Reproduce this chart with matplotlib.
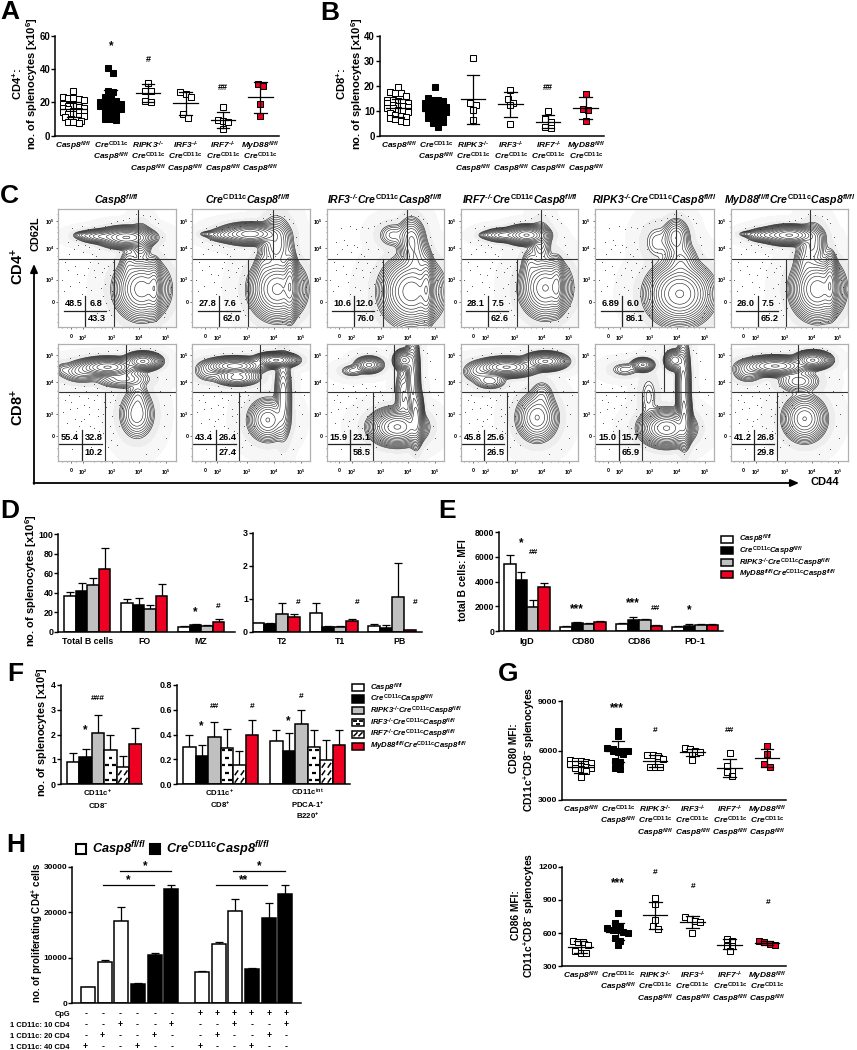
# multi panel figure: splenocyte counts, flow plots, B cell bars, proliferation

import numpy as np
import matplotlib
matplotlib.use("Agg")
import matplotlib.pyplot as plt
from matplotlib.patches import Rectangle

plt.rcParams['font.family'] = ['Liberation Sans', 'DejaVu Sans']
plt.rcParams['font.weight'] = 'bold'
plt.rcParams['mathtext.fontset'] = 'custom'
plt.rcParams['mathtext.rm'] = 'Liberation Sans:italic:bold'
plt.rcParams['mathtext.it'] = 'Liberation Sans:italic:bold'
plt.rcParams['mathtext.bf'] = 'Liberation Sans:bold'

W, H = 857, 1050

# genotype labels
casp = r'$\mathit{Casp8}^{\mathit{fl/fl}}$'
cre = r'$\mathit{Cre}^{\mathbf{CD11c}}$'
cre_casp = r'$\mathit{Cre}^{\mathbf{CD11c}}\mathit{Casp8}^{\mathit{fl/fl}}$'
ko = '^{\u2010/\u2010}'
ripk3 = r'$\mathit{RIPK3}' + ko + '$'
irf3 = r'$\mathit{IRF3}' + ko + '$'
irf7 = r'$\mathit{IRF7}' + ko + '$'
myd88 = r'$\mathit{MyD88}^{\mathit{fl/fl}}$'
group_rows = [[casp], [cre, casp], [ripk3, cre, casp], [irf3, cre, casp], [irf7, cre, casp], [myd88, cre, casp]]

# panel A
a_values = [
    [27, 23, 22.5, 22.5, 22, 21.5, 19, 18, 18, 17, 16.5, 16.5, 16, 15, 15, 14, 14, 13, 13, 12, 12, 11, 10, 9.5, 9, 8, 8, 7.5],
    [40.5, 38, 27, 26, 23, 23, 21, 20, 20, 20, 19, 19, 18, 18, 17, 17, 16, 16, 15, 15, 13, 12, 12, 10, 10, 9.5],
    [32, 27, 27, 21, 20.5],
    [26, 25, 23.5, 13, 10.5],
    [17, 9.5, 9, 8.5, 4],
    [31, 30, 19, 12],
]
a_mean = [15.8, 20, 25.7, 19.5, 9.2, 23]
a_upper = [20.5, 27.5, 31, 26, 14, 32.5]
a_lower = [11, 12, 20.3, 12.7, 4.4, 13.8]

# panel B
b_values = [
    [19.5, 17.5, 17, 17, 16, 14.5, 14.5, 14, 13.5, 13, 13, 12.5, 12, 12, 11.5, 11, 11, 10.5, 10, 9.5, 9, 8.5, 8, 7.5, 7, 6.5, 6, 5.5],
    [19.7, 15, 14.5, 14.5, 14, 13, 13, 12.5, 12, 11.5, 11, 11, 10.5, 10, 9.5, 9, 8.5, 8, 7.5, 7, 6.5, 6, 5.5, 5, 3.5],
    [31.3, 13, 12.3, 10.2, 6.2],
    [18.2, 14.6, 13.2, 12.2, 4.7],
    [9.8, 6.6, 5.4, 3.6, 3.2],
    [16.9, 10.8, 10.2, 5.8],
]
b_mean = [11.2, 9.9, 14.6, 12.6, 5.6, 11]
b_upper = [14.7, 13, 24.3, 17.5, 8.3, 15.5]
b_lower = [7.6, 7, 4.8, 7.6, 2.9, 6.6]

# panel C, percentages per plot
flow_row1 = [[48.5, 6.8, 43.3], [27.8, 7.6, 62.0], [10.6, 12.0, 76.0], [28.1, 7.5, 62.6], ['6.89', 6.0, 86.1], [26.0, 7.5, 65.2]]
flow_row2 = [[55.4, 32.8, 10.2], [43.4, 26.4, 27.4], [15.9, 23.1, 58.5], [45.8, 25.6, 26.5], [15.0, 15.7, 65.9], [41.2, 26.8, 29.8]]
flow_titles = [
    casp, cre_casp,
    r'$\mathit{IRF3}' + ko + r'\mathit{Cre}^{\mathbf{CD11c}}\mathit{Casp8}^{\mathit{fl/fl}}$',
    r'$\mathit{IRF7}' + ko + r'\mathit{Cre}^{\mathbf{CD11c}}\mathit{Casp8}^{\mathit{fl/fl}}$',
    r'$\mathit{RIPK3}' + ko + r'\mathit{Cre}^{\mathbf{CD11c}}\mathit{Casp8}^{\mathit{fl/fl}}$',
    r'$\mathit{MyD88}^{\mathit{fl/fl}}\mathit{Cre}^{\mathbf{CD11c}}\mathit{Casp8}^{\mathit{fl/fl}}$',
]
# populations: x, y, x spread, y spread, weight (percent of the plot)
blobs_row1 = [
    [(58, 76, 9, 3.5, 1.0), (36, 77, 8, 2.5, .22), (21, 78, 4, 1.5, .04), (71, 32, 9, 10, .6), (82, 33, 2.5, 9, .4), (60, 52, 3.5, 7, .05), (70, 72, 4, 7, .1)],
    [(49, 79, 10, 3.5, .8), (28, 78, 7, 2.5, .1), (14, 79, 4, 1.2, .03), (72, 32, 9, 10, .7), (83, 35, 2.5, 11, .6), (71, 70, 6, 10, .15), (60, 50, 3.5, 7, .04)],
    [(72, 74, 5, 8, .2), (56, 78, 6, 5, .04), (72, 30, 10, 11, 1.0), (85, 32, 2.5, 11, .7), (76, 58, 5, 8, .15)],
    [(56, 78, 7, 3.2, 1.0), (36, 78, 7, 2.5, .2), (22, 78, 3.5, 1.5, .03), (72, 33, 8.5, 10, .5), (82, 35, 2.5, 9, .35), (59, 52, 3.5, 7, .05), (68, 72, 4, 8, .08)],
    [(68, 76, 5, 7, .12), (52, 72, 6, 8, .02), (71, 28, 10.5, 10, 1.0), (72, 55, 6, 8, .1)],
    [(50, 78, 9, 3.2, .8), (30, 78, 7, 2.5, .15), (15, 79, 4, 1.2, .03), (74, 32, 8.5, 10, .7), (85, 36, 2.5, 10, .5), (64, 55, 4.5, 8, .06), (70, 70, 5, 8, .1)],
]
blobs_row2 = [
    [(42, 80, 10, 3.2, 1.0), (72, 85, 6, 3, 1.0), (20, 76, 8, 4, .1), (4, 78, 3, 3, .02), (67, 40, 6.4, 9, .12), (68, 55, 4, 6, .04), (55, 70, 10, 3.5, .1)],
    [(36, 81, 10, 3, 1.0), (71, 86, 7, 2.5, 1.2), (38, 71, 8, 3, .25), (14, 76, 6, 4, .05), (64, 35, 7, 7.5, .3), (77, 55, 3, 15, .2)],
    [(36, 82, 5, 3, .3), (22, 77, 5, 2.5, .04), (66, 86, 3.5, 3.5, .8), (73, 70, 2.5, 16, .45), (60, 29, 9, 6, 1.1), (76, 38, 2.5, 10, .6), (65, 55, 3, 12, .1)],
    [(39, 80, 10, 3.2, 1.0), (72, 85, 7, 3, 1.0), (15, 76, 6, 4, .07), (25, 68, 6, 3, .08), (65, 37, 7.3, 8.5, .25), (69, 55, 4.5, 6, .05)],
    [(40, 82, 4, 2.5, .28), (25, 78, 6, 3, .03), (67, 86, 3.5, 3.5, .5), (74, 65, 2.5, 16, .35), (60, 28, 8.5, 6, 1.1), (75, 36, 2.5, 10, .45), (45, 55, 4, 10, .02)],
    [(38, 81, 11, 3.2, 1.0), (70, 86, 6, 3, 1.0), (15, 76, 6, 4, .07), (63, 36, 7.5, 8, .35), (58, 68, 8, 4.5, .08)],
]
# stray events around the populations (percent of the plot)
stray_x_row1 = [5, 8, 12, 14, 18, 22, 25, 28, 31, 34, 37, 40, 42, 44, 46, 38, 41, 43, 45, 33, 36, 39, 27, 30, 24, 20, 16, 10, 6, 3,
                9, 13, 17, 21, 26, 29, 35, 32, 44, 47, 47, 46, 45, 48, 90, 92, 94, 95, 93, 91, 96, 89, 88, 85, 82, 78, 72, 66, 60, 55,
                50, 45, 40, 35, 30, 25, 20, 12, 8, 15, 23, 33, 44, 52, 58, 64, 70, 76, 83, 90]
stray_y_row1 = [30, 48, 22, 52, 38, 44, 50, 31, 42, 54, 47, 36, 52, 44, 30, 26, 20, 14, 10, 12, 33, 50, 55, 48, 34, 28, 45, 35, 55, 40,
                62, 66, 70, 64, 68, 62, 66, 60, 58, 55, 48, 38, 24, 16, 62, 50, 40, 28, 18, 12, 34, 70, 76, 88, 92, 94, 95, 96, 93, 91,
                90, 88, 86, 84, 85, 83, 86, 84, 72, 74, 70, 72, 66, 64, 62, 60, 60, 4, 5, 8]
stray_x_row2 = [6, 10, 14, 18, 22, 26, 30, 34, 37, 39, 35, 31, 27, 23, 19, 15, 11, 7, 4, 9, 16, 25, 33, 38, 41, 44, 46, 48, 47, 45,
                12, 20, 28, 36, 42, 50, 52, 54, 40, 38, 34, 30, 26, 22, 18, 84, 87, 90, 92, 88, 85, 90, 93, 82, 78, 70, 60, 50, 42, 34,
                26, 18, 10, 30, 22, 45, 55, 65, 75, 85, 92, 95, 5, 14, 24, 33, 41, 47, 52, 44]
stray_y_row2 = [52, 44, 36, 55, 48, 40, 52, 44, 33, 50, 26, 20, 30, 22, 34, 26, 50, 32, 42, 56, 45, 54, 56, 40, 46, 30, 38, 52, 24, 18,
                10, 8, 12, 9, 12, 14, 30, 45, 55, 24, 38, 28, 46, 36, 30, 72, 60, 48, 70, 85, 92, 30, 40, 95, 96, 96, 95, 95, 94, 92,
                92, 90, 88, 66, 64, 60, 62, 60, 6, 10, 20, 56, 66, 62, 60, 62, 64, 56, 48, 50]
flow_xticks = [10.8, 21.3, 46, 69, 91.8]
flow_yticks = [21, 40, 67, 90]
flow_xlabels = ['0', r'$\mathbf{10^{2}}$', r'$\mathbf{10^{3}}$', r'$\mathbf{10^{4}}$', r'$\mathbf{10^{5}}$']
flow_ylabels = ['0', r'$\mathbf{10^{3}}$', r'$\mathbf{10^{4}}$', r'$\mathbf{10^{5}}$']

# panel D
d_groups_left = ['Total B cells', 'FO', 'MZ']
d_left = [[37, 42, 48, 64], [29.5, 27.5, 23, 36.5], [5, 6.5, 6, 10]]
d_left_top = [[41, 50.5, 55.5, 85.5], [34, 34.5, 27, 49], [6, 8, 7, 13.5]]
d_groups_right = ['T2', 'T1', 'PB']
d_right = [[.25, .23, .53, .45], [.58, .15, .14, .33], [.16, .11, 1.05, .05]]
d_right_top = [[.26, .25, .88, .53], [.86, .17, .18, .4], [.22, .19, 2.08, .06]]

# panel E
e_groups = ['IgD', 'CD80', 'CD86', 'PD-1']
e_values = [[5450, 4150, 1950, 3550], [330, 650, 560, 720], [580, 950, 880, 450], [330, 440, 480, 520]]
e_top = [[6150, 4800, 2500, 3900], [450, 780, 680, 790], [630, 1130, 1030, 480], [420, 560, 610, 560]]
e_legend = [casp, cre_casp, flow_titles[4], flow_titles[5]]

# panel F
f_left = [[.9, 1.1, 2.08, 1.38, .68, 1.63]]
f_left_top = [[1.27, 1.42, 2.78, 2.0, 1.15, 2.25]]
f_right = [[.30, .23, .385, .29, .155, .395], [.35, .265, .485, .30, .195, .315]]
f_right_top = [[.395, .315, .50, .445, .265, .52], [.435, .415, .595, .44, .355, .44]]
f_legend = [casp, cre_casp, flow_titles[4], flow_titles[2], flow_titles[3], flow_titles[5]]

# panel G
g80_values = [
    [5430, 5380, 5350, 5300, 5250, 5200, 5200, 5050, 5000, 4950, 4950, 4850, 4750, 4400],
    [7200, 6900, 6140, 6100, 6000, 6000, 6000, 5950, 5900, 5800, 5340, 5300, 4960, 4900],
    [5740, 5700, 5660, 5500, 5000, 5000, 5000],
    [6140, 6100, 6000, 5920, 5700, 5400],
    [5820, 5040, 4770, 4700, 4440],
    [6280, 5760, 5180, 5000],
]
g80_mean = [4980, 5940, 5340, 5880, 4950, 5540]
g80_upper = [5350, 6600, 5740, 6100, 5480, 6120]
g80_lower = [4620, 5280, 4980, 5640, 4420, 4980]
g86_values = [
    [532, 523, 517, 493, 435, 423, 420],
    [785, 691, 652, 643, 628, 628, 610, 604, 553, 532, 493],
    [920, 860, 718, 664, 640],
    [742, 730, 709, 703, 604],
    [544, 532, 484, 484, 438],
    [530, 520, 505, 493],
]
g86_mean = [478, 613, 763, 700, 496, 514]
g86_upper = [532, 694, 884, 755, 544, 530]
g86_lower = [423, 538, 637, 643, 453, 493]

# panel H
h_white = [3600, 9100, 18100]
h_white_top = [3650, 9600, 21200]
h_black = [4300, 10650, 25100]
h_black_top = [4500, 10950, 25900]
h_white_cpg = [6800, 13000, 20200]
h_white_cpg_top = [7200, 13400, 23000]
h_black_cpg = [7600, 18800, 23900]
h_black_cpg_top = [7850, 22000, 26000]
h_rows = ['CpG', '1 CD11c: 10 CD4', '1 CD11c: 20 CD4', '1 CD11c: 40 CD4']
h_signs = ['------++++++', '--+--+--+--+', '-+--+--+--+-', '+--+--+--+--']

bar_styles = {
    'white': dict(facecolor='white'),
    'black': dict(facecolor='black'),
    'gray': dict(facecolor='#c0c0c0'),
    'red': dict(facecolor='#ee0022'),
    'dash': dict(facecolor='white'),
    'slant': dict(facecolor='white'),
}

fig = plt.figure(figsize=(W / 100, H / 100), dpi=100)

# overlay in pixel coordinates for all loose text
over = fig.add_axes([0, 0, 1, 1], zorder=10)
over.set_xlim(0, W)
over.set_ylim(H, 0)
over.axis('off')


def txt(x, y, s, size=6.6, ha='center', va='baseline', rot=0, **kw):
    return over.text(x, y, s, fontsize=size, ha=ha, va=va, rotation=rot, color='black', **kw)


def vlabel(x, y, s, size=8):
    txt(x, y, s, size=size, va='center', rot=90, rotation_mode='anchor')


def make_axes(x0, x1, ytop, ybot, ylim, yticks, yticklabels=None, size=6.9):
    ax = fig.add_axes([x0 / W, 1 - ybot / H, (x1 - x0) / W, (ybot - ytop) / H])
    ax.set_ylim(*ylim)
    ax.set_yticks(yticks)
    if yticklabels is not None:
        ax.set_yticklabels(yticklabels)
    ax.spines['top'].set_visible(False)
    ax.spines['right'].set_visible(False)
    ax.spines['left'].set_linewidth(1.1)
    ax.spines['bottom'].set_linewidth(1.1)
    ax.tick_params(axis='y', length=2.6, width=1.0, labelsize=size, pad=0.8)
    ax.patch.set_alpha(0)
    return ax


def swarm(values, row, step, most=5):
    # stack close values side by side, centred on the group
    vals = sorted(values, reverse=True)
    out = []
    i = 0
    while i < len(vals):
        j = i
        while j < len(vals) and vals[i] - vals[j] < row and j - i < most:
            j += 1
        n = j - i
        for k in range(n):
            out.append((vals[i + k], (k - (n - 1) / 2) * step))
        i = j
    return out


def dot_panel(ax, values, mean, upper, lower, row):
    ax.set_xlim(-0.49, 5.5)
    ax.set_xticks([])
    for g in range(6):
        face = 'white'
        if g == 1:
            face = 'black'
        if g == 5:
            face = '#ee0022'
        for v, off in swarm(values[g], row, 0.14):
            ax.plot(g + off, v, 's', ms=3.7, mfc=face, mec='black', mew=0.75, zorder=2)
        ax.plot([g - .33, g + .33], [mean[g], mean[g]], color='black', lw=0.9, zorder=3)
        ax.plot([g - .17, g + .17], [upper[g], upper[g]], color='black', lw=0.9, zorder=3)
        ax.plot([g - .17, g + .17], [lower[g], lower[g]], color='black', lw=0.9, zorder=3)
        ax.plot([g, g], [lower[g], upper[g]], color='black', lw=0.9, zorder=3)


def group_labels(x0, step, baselines):
    for g, rows in enumerate(group_rows):
        for r, s in enumerate(rows):
            txt(x0 + g * step, baselines[r], s, size=6.0)


def bars(ax, values, tops, styles, centers, width):
    for c, vals, tp in zip(centers, values, tops):
        n = len(vals)
        for i in range(n):
            x = c + (i - (n - 1) / 2) * width
            st = styles[i]
            ax.bar(x, vals[i], width=width, edgecolor='black', lw=1.1, zorder=2, **bar_styles[st])
            ax.errorbar(x, vals[i], yerr=[[0], [tp[i] - vals[i]]], color='black', lw=0.9, capsize=2.6,
                        capthick=0.9, zorder=1)
            if st in ('dash', 'slant'):
                pattern(ax, x, width, vals[i], st)


def pattern(ax, x, w, h, st):
    # little dashes inside the bar, spaced in screen pixels
    ymin, ymax = ax.get_ylim()
    pos = ax.get_position()
    per_px = (ymax - ymin) / (pos.height * H)
    rows = np.arange(4 * per_px, h - per_px, 7.5 * per_px)
    for i, y in enumerate(rows):
        if st == 'dash':
            xs = [x - .27 * w, x + .27 * w] if i % 2 == 0 else [x]
            for xc in xs:
                ax.plot([xc - .15 * w, xc + .15 * w], [y, y], color='black', lw=1.6, solid_capstyle='butt', zorder=3)
        else:
            xs = [x - .24 * w, x + .24 * w]
            for xc in xs:
                ax.plot([xc - .1 * w, xc + .1 * w], [y - 1.8 * per_px, y + 1.8 * per_px], color='black', lw=1.1, zorder=3)


def legend_boxes(x, w, h, ys, labels, styles, tx, size=5.6):
    for y, lab, st in zip(ys, labels, styles):
        over.add_patch(Rectangle((x, y - h / 2), w, h, facecolor=bar_styles[st]['facecolor'], edgecolor='black', lw=1.1))
        if st == 'dash':
            for xc, yc in [(x + 3, y - 1.5), (x + 9, y - 1.5), (x + 6, y + 1.5)]:
                over.plot([xc - 2, xc + 2], [yc, yc], color='black', lw=1.3, solid_capstyle='butt')
        if st == 'slant':
            for xc in [x + 3.5, x + 8.5]:
                over.plot([xc - 1.5, xc + 1.5], [y + 1.5, y - 1.5], color='black', lw=1.1)
        txt(tx, y + 2.5, lab, size=size, ha='left')


# panel letters
for s, x, y in [('A', 0, 19), ('B', 320, 20), ('C', 0, 203), ('D', 0, 518), ('E', 438, 518), ('F', 7, 681), ('G', 498, 681), ('H', 6, 852)]:
    txt(x, y, s, size=19, ha='left')

# A and B
ax = make_axes(55, 279, 36, 135.7, (0, 60), [0, 20, 40, 60])
dot_panel(ax, a_values, a_mean, a_upper, a_lower, 2.7)
group_labels(73.3, 37.4, [148.5, 160, 171.5])
vlabel(17, 84, r'$\mathbf{CD4^{+}}$:', 8)
vlabel(32, 84, r'no. of splenocytes [x10$^{\mathbf{6}}$]', 8)
txt(111, 46.5, '*', size=8.5, va='center')
txt(148.3, 59, '#', size=6.5, va='center')
txt(223.3, 87.5, '##', size=6.5, va='center')

ax = make_axes(379.5, 604.3, 36, 135.7, (0, 40), [0, 10, 20, 30, 40])
dot_panel(ax, b_values, b_mean, b_upper, b_lower, 1.8)
group_labels(398.7, 37.4, [148.5, 160, 171.5])
vlabel(341, 84, r'$\mathbf{CD8^{+}}$:', 8)
vlabel(357, 84, r'no. of splenocytes [x10$^{\mathbf{6}}$]', 8)
txt(548.3, 87.5, '##', size=6.5, va='center')

# C
cols = [(58.3, 175.7), (192.3, 310.3), (326.7, 444.3), (460.7, 578.3), (595, 714.3), (730.7, 848)]
rows = [(209.3, 326.7), (343.7, 461)]
grid = np.linspace(0, 100, 260)
gx, gy = np.meshgrid(grid, grid)
gates = [(68, 47.5, 57.4), (57.5, 39.7, 58.6)]
tables = [dict(v=23, hy=13.6, x0=4.8, x1=40.6, tx=(13, 32, 33), ty=(20, 7)),
          dict(v=20, hy=14.5, x0=1, x1=37, tx=(10, 30, 30), ty=(20, 7))]
strays = [(stray_x_row1, stray_y_row1), (stray_x_row2, stray_y_row2)]
for r, (blobs, nums) in enumerate([(blobs_row1, flow_row1), (blobs_row2, flow_row2)]):
    ytop, ybot = rows[r]
    up, low, hy = gates[r]
    tb = tables[r]
    for c, (x0, x1) in enumerate(cols):
        ax = fig.add_axes([x0 / W, 1 - ybot / H, (x1 - x0) / W, (ybot - ytop) / H])
        ax.set_xlim(0, 100)
        ax.set_ylim(0, 100)
        dens = np.zeros_like(gx)
        for bx, by, sx, sy, wt in blobs[c]:
            dens += wt * np.exp(-0.5 * (((gx - bx) / sx) ** 2 + ((gy - by) / sy) ** 2))
        top = dens.max()
        ax.contourf(gx, gy, dens, levels=[top * 1e-6, top * 1e-3, top * 8e-3], colors=['#f7f7f7', '#ededed'])
        ax.plot(strays[r][0], strays[r][1], 's', ms=0.7, mfc='#555555', mec='none', zorder=1.5)
        ax.contour(gx, gy, dens, levels=np.geomspace(top * 8e-3, top * 0.95, 15), colors='#222222', linewidths=0.42)
        ax.plot([0, 100], [hy, hy], color='#333333', lw=0.8)
        ax.plot([up, up], [hy, 100 - 1], color='#333333', lw=0.8)
        ax.plot([low, low], [0, hy], color='#333333', lw=0.8)
        # percentages
        ax.plot([tb['x0'], tb['x1']], [tb['hy'], tb['hy']], color='#222222', lw=0.9)
        ax.plot([tb['v'], tb['v']], [1, 26.5], color='#222222', lw=0.9)
        ax.text(tb['tx'][0], tb['ty'][0], str(nums[c][0]), fontsize=6.6, ha='center', va='center')
        ax.text(tb['tx'][1], tb['ty'][0], str(nums[c][1]), fontsize=6.6, ha='center', va='center')
        ax.text(tb['tx'][2], tb['ty'][1], str(nums[c][2]), fontsize=6.6, ha='center', va='center')
        for sp in ax.spines.values():
            sp.set_color('#b0b0b0')
            sp.set_linewidth(0.9)
        ax.set_xticks(flow_xticks)
        ax.set_xticklabels(flow_xlabels)
        ax.set_yticks(flow_yticks)
        ax.set_yticklabels(flow_ylabels)
        ax.set_xticks([3, 7, 15, 30, 36, 40, 54, 60, 64, 77, 83, 87], minor=True)
        ax.set_yticks([4, 11, 30, 48, 54, 60, 75, 81, 85, 96], minor=True)
        ax.tick_params(which='major', length=1.6, width=0.5, labelsize=3.8, pad=3.5, color='#333333')
        ax.tick_params(which='minor', length=0.9, width=0.4, color='#333333')
        ax.tick_params(axis='y', pad=1)
        if r == 0:
            title_x = [116.7, 248, 385, 520, 654, 790][c]
            txt(title_x, 204, flow_titles[c], size=7.6)

over.annotate('', xy=(34, 264), xytext=(34, 484), arrowprops=dict(arrowstyle='-|>,head_width=0.22,head_length=0.5', color='black', lw=1.3, shrinkA=0, shrinkB=0))
over.annotate('', xy=(799, 483), xytext=(33.5, 483), arrowprops=dict(arrowstyle='-|>,head_width=0.22,head_length=0.5', color='black', lw=1.3, shrinkA=0, shrinkB=0))
vlabel(18, 267, r'$\mathbf{CD4^{+}}$', 10.5)
vlabel(18, 408, r'$\mathbf{CD8^{+}}$', 10.5)
vlabel(36, 234, 'CD62L', 7.8)
txt(825, 485, 'CD44', size=8)

# D
four = ['white', 'black', 'gray', 'red']
ax = make_axes(58.3, 235, 534.3, 631.7, (0, 100), [0, 20, 40, 60, 80, 100], size=6.4)
ax.set_xlim(-0.51, 2.59)
ax.set_xticks([])
bars(ax, d_left, d_left_top, four, [0, 1, 2], 0.202)
for x, s in zip([87.5, 144, 201], d_groups_left):
    txt(x, 644, s, size=6.3)
ax = make_axes(252.7, 421.7, 532.7, 631.7, (0, 3), [0, 1, 2, 3], size=6.4)
ax.set_xlim(-0.4, 2.52)
ax.set_xticks([])
bars(ax, d_right, d_right_top, four, [0, 1, 2], 0.208)
for x, s in zip([281.7, 339.7, 400], d_groups_right):
    txt(x, 644, s, size=6.3)
vlabel(31, 581, r'no. of splenocytes [x10$^{\mathbf{6}}$]', 8)
txt(195, 612, '*', size=8.5, va='center')
txt(218.3, 606, '#', size=6, va='center')
for x in [298.3, 356.7, 415]:
    txt(x, 602.5, '#', size=6, va='center')

# E
ax = make_axes(499, 722.7, 532, 631.3, (0, 8000), [0, 2000, 4000, 6000, 8000], size=6.2)
ax.set_xlim((207 - 291) / 168, (878 - 291) / 168)
ax.set_xticks([])
bars(ax, e_values, e_top, four, [0, 1, 2, 3], 0.205)
for x, s in zip([527, 583, 639, 695], e_groups):
    txt(x, 644, s, size=6.6)
vlabel(463, 580, 'total B cells: MFI', 7.4)
for x, y, s in [(521.7, 543, '*'), (533.3, 553, '##'), (577, 609, '***'), (633, 603, '***'), (655.3, 608.5, '##'), (689, 610, '*')]:
    txt(x, y, s, size=8.5 if '*' in s else 6, va='center')
legend_boxes(721, 12.3, 7, [539.3, 550.7, 562.7, 574.3], e_legend, four, 738.7)

# F
six = ['white', 'black', 'gray', 'dash', 'slant', 'red']
ax = make_axes(60.7, 142, 685, 784.3, (0, 4), [0, 1, 2, 3, 4], size=6.4)
ax.set_xlim((182 - 313) / 225, (427 - 313) / 225)
ax.set_xticks([])
bars(ax, f_left, f_left_top, six, [0], 1 / 6)
ax = make_axes(176.7, 350, 685, 784.3, (0, .8), [0, .2, .4, .6, .8], ['0.0', '0.2', '0.4', '0.6', '0.8'], size=6.4)
ax.set_xlim((530 - 662) / 261, (1050 - 662) / 261)
ax.set_xticks([])
bars(ax, f_right, f_right_top, six, [0, 1], 37.5 / 261)
for x, rows_f in [(98, ['CD11c$^{\\mathbf{+}}$', 'CD8$^{\\mathbf{-}}$']),
                  (220, ['CD11c$^{\\mathbf{+}}$', 'CD8$^{\\mathbf{+}}$']),
                  (307.7, ['CD11c$^{\\mathbf{int}}$', 'PDCA-1$^{\\mathbf{+}}$', 'B220$^{\\mathbf{+}}$'])]:
    for y, s in zip([796, 808, 819], rows_f):
        txt(x, y, s, size=5.6)
vlabel(41.7, 732, r'no. of splenocytes [x10$^{\mathbf{6}}$]', 7.8)
for x, y, s in [(97.7, 699, '###'), (85.7, 730, '*'), (214, 707, '##'), (251.7, 706.5, '#'), (201.3, 726, '*'), (301, 696.5, '#'), (288.7, 721.5, '*')]:
    txt(x, y, s, size=8.5 if '*' in s else 6, va='center')
legend_boxes(352, 12.3, 7.5, [687.7, 699, 710.7, 722.7, 734.3, 746.3], f_legend, six, 370)

# G
ax = make_axes(562.3, 785.7, 701, 800, (3000, 9000), [3000, 6000, 9000], size=6.1)
dot_panel(ax, g80_values, g80_mean, g80_upper, g80_lower, 280)
group_labels(580.7, 37.33, [812.3, 824, 835.7])
vlabel(514.3, 748, 'CD80 MFI:', 7.4)
vlabel(529.5, 749, r'CD11c$^{\mathbf{+}}$CD8$^{\mathbf{-}}$ splenocytes', 7.4)
for x, y, s in [(617.3, 708, '***'), (654.7, 731, '#'), (729.3, 731, '##')]:
    txt(x, y, s, size=8.5 if '*' in s else 6, va='center')

ax = make_axes(562.3, 785.7, 866.7, 966.3, (300, 1200), [300, 600, 900, 1200], size=6.1)
dot_panel(ax, g86_values, g86_mean, g86_upper, g86_lower, 40)
group_labels(580.7, 37.33, [978.3, 990, 1002])
vlabel(516, 914.7, 'CD86 MFI:', 7.4)
vlabel(529.5, 915, r'CD11c$^{\mathbf{+}}$CD8$^{\mathbf{-}}$ splenocytes', 7.4)
for x, y, s in [(618, 883, '***'), (655.3, 873, '#'), (692.7, 887, '#'), (768.3, 902, '#')]:
    txt(x, y, s, size=8.5 if '*' in s else 6, va='center')

# H
ax = make_axes(72.3, 300.7, 866.7, 1003.3, (0, 30000), [0, 10000, 20000, 30000])
ax.tick_params(axis='y', labelsize=6.0)
step = 50.0
pos_a = [(264 + i * step) for i in range(6)]
pos_b = [(606 + i * step) for i in range(6)]
ax.set_xlim(217, 902)
ax.set_xticks([])
all_vals = h_white + h_black + h_white_cpg + h_black_cpg
all_tops = h_white_top + h_black_top + h_white_cpg_top + h_black_cpg_top
for x, v, tp, i in zip(pos_a + pos_b, all_vals, all_tops, range(12)):
    fc = 'white' if i % 6 < 3 else 'black'
    ax.bar(x, v, width=42, facecolor=fc, edgecolor='black', lw=1.1, zorder=2)
    ax.errorbar(x, v, yerr=[[0], [tp - v]], color='black', lw=0.9, capsize=2.6, capthick=0.9, zorder=1)
vlabel(37.7, 933, r'no. of proliferating CD4$^{\mathbf{+}}$ cells', 7.1)
for (xa, xb, y), s, sx, sy in [((102.7, 154, 884.7), '*', 128.3, 880), ((120, 171, 870.7), '*', 145.7, 866),
                               ((216, 267.3, 884.7), '**', 243.7, 880), ((233.3, 285, 870.7), '*', 259, 866)]:
    over.plot([xa, xb], [y, y], color='black', lw=0.9)
    txt(sx, sy, s, size=8.5, va='center')
over.add_patch(Rectangle((76.5, 843.5), 10, 10.5, facecolor='white', edgecolor='black', lw=1.5))
over.add_patch(Rectangle((150.5, 843.5), 10, 10.5, facecolor='black', edgecolor='black', lw=1.5))
txt(92, 853.7, casp, size=9.2, ha='left')
txt(166, 853.7, cre_casp, size=9.2, ha='left')
table_x = [x / 3 for x in [257, 308, 360, 412, 464, 515, 600, 652, 703, 755, 807, 858]]
for y, lab, signs in zip([1014, 1025.3, 1036, 1046.7], h_rows, h_signs):
    txt(70, y + 2, lab, size=5.4, ha='right')
    for x, s in zip(table_x, signs):
        txt(x, y + 2, s, size=6.2)

fig.savefig('out.png', dpi=100)
